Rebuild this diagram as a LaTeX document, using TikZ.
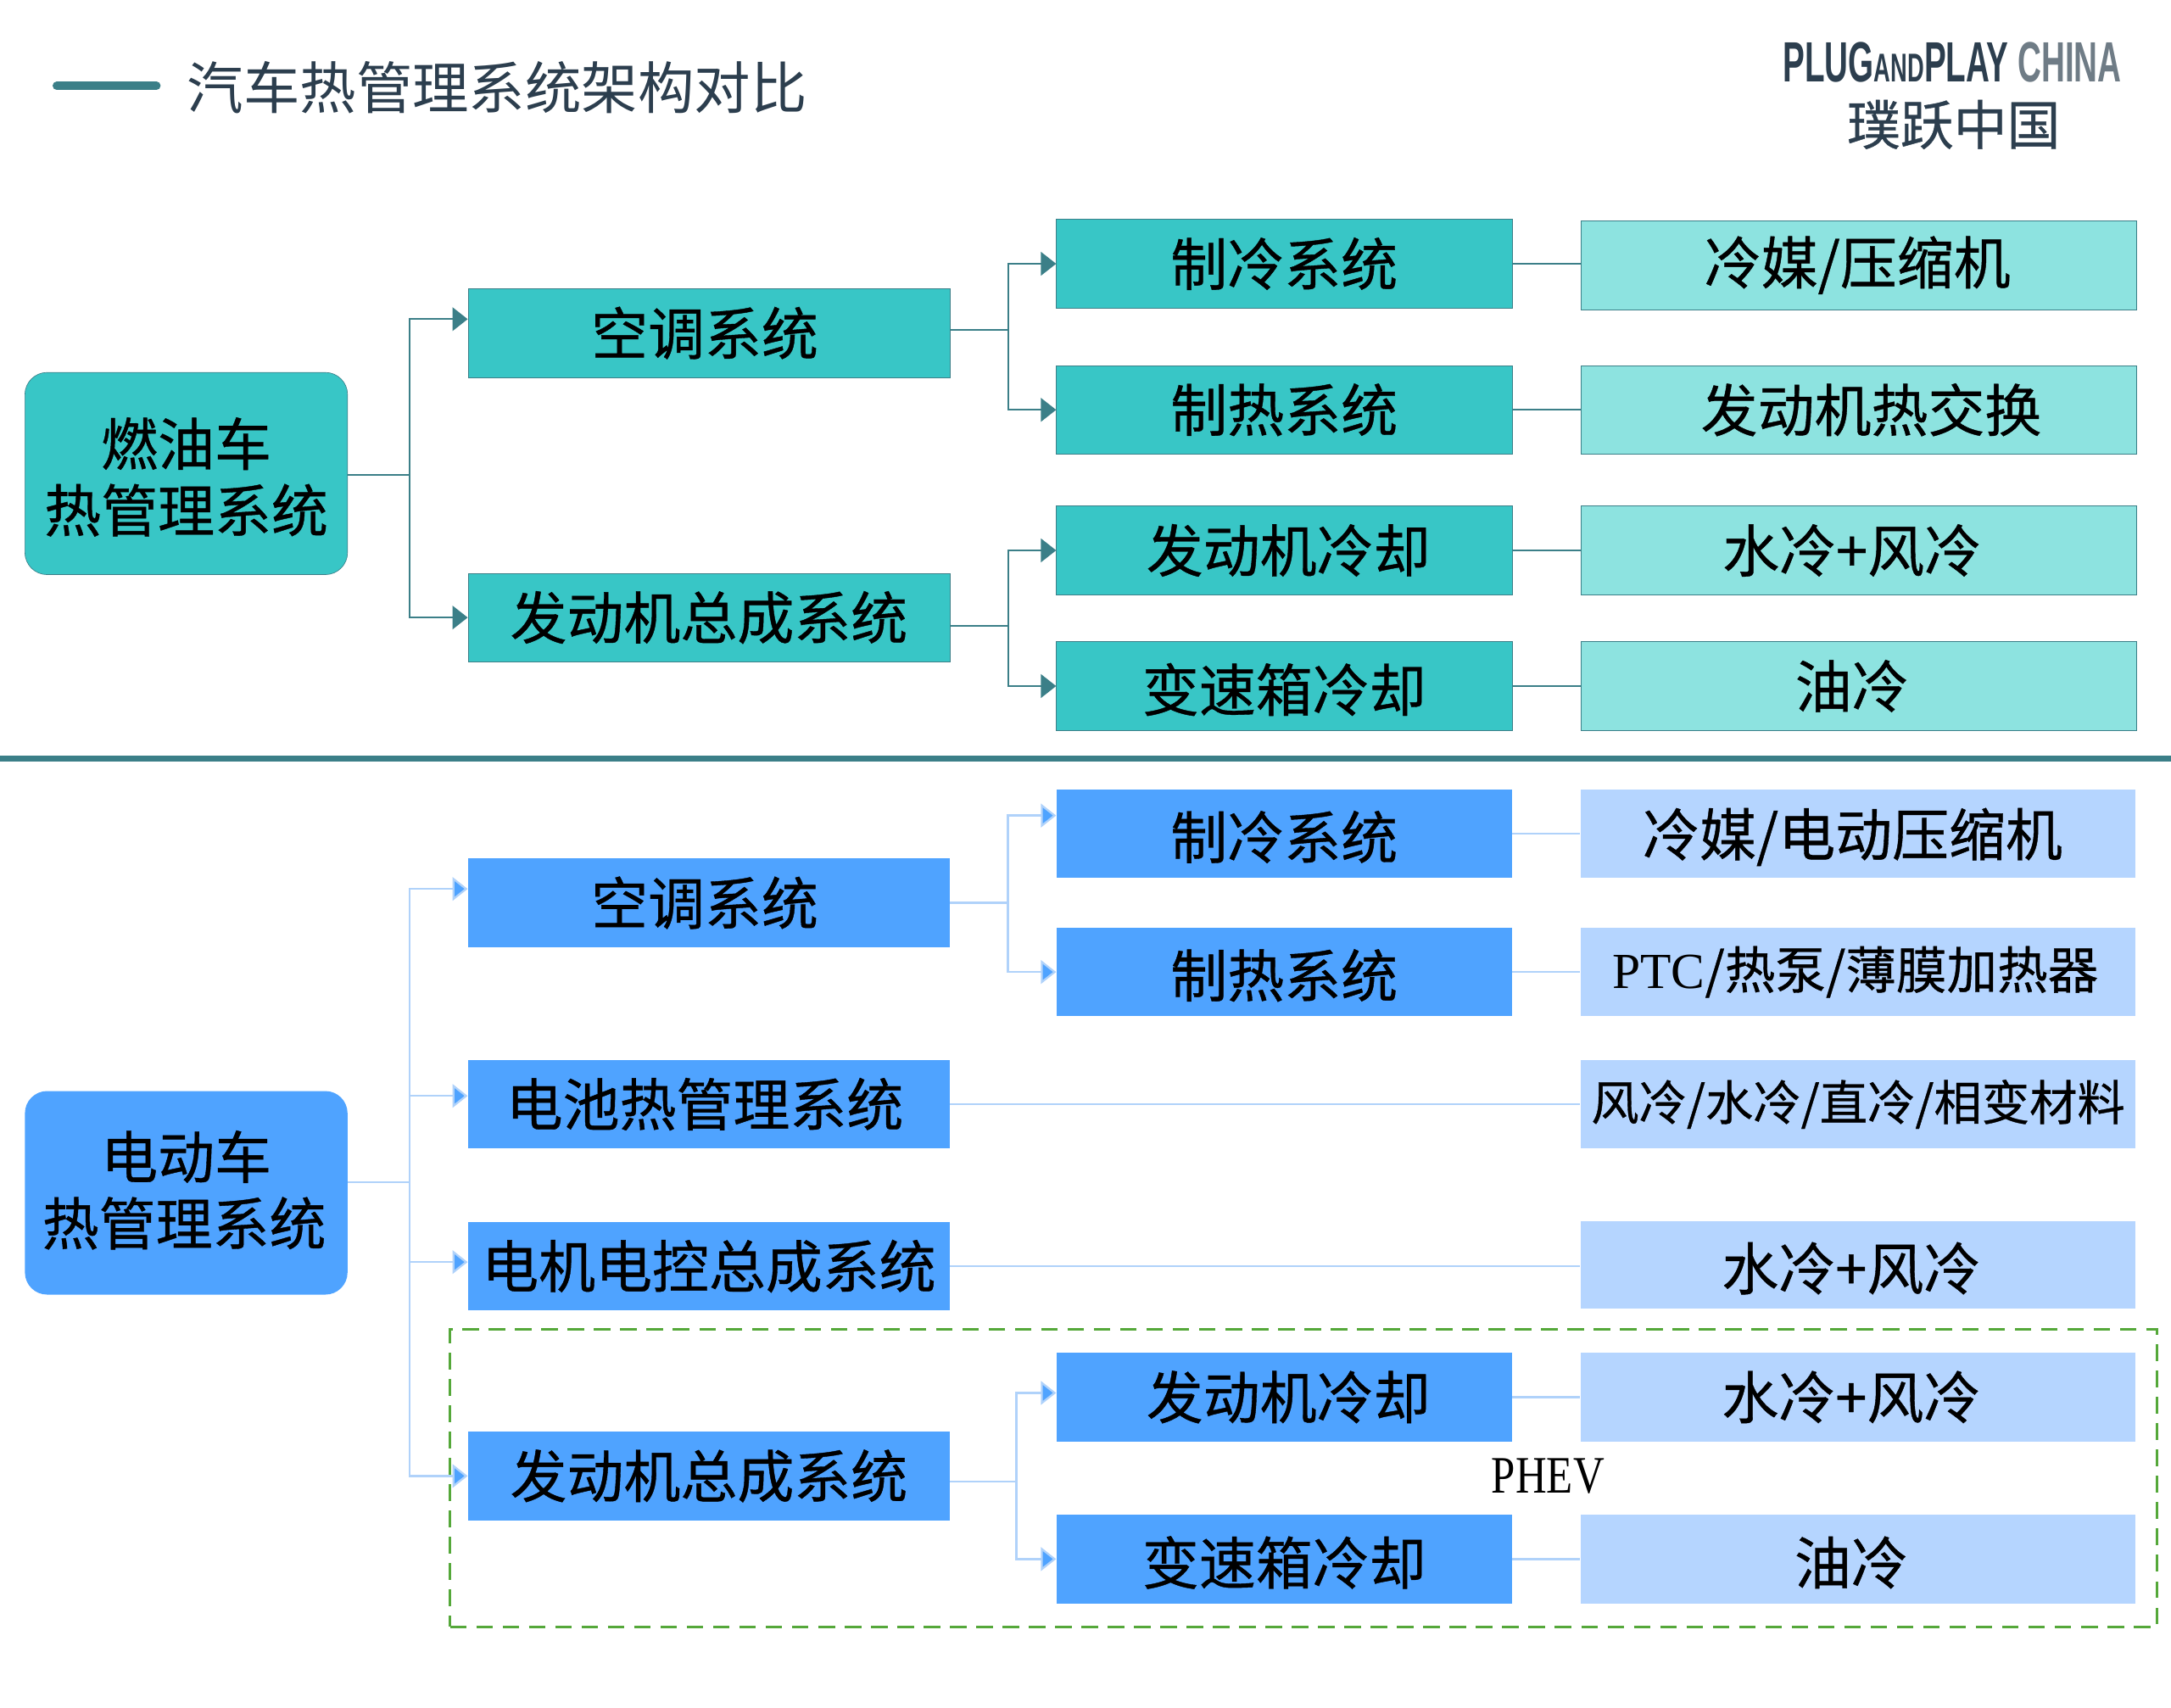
\documentclass[tikz,border=0pt]{standalone}
\usepackage{fontspec}
\usepackage{graphicx}
\usetikzlibrary{arrows.meta}
\setmainfont{Noto Sans CJK SC}
\newfontfamily\boxfont[FakeBold=0.6]{Noto Sans CJK SC}
\newfontfamily\latinserif{Liberation Serif}
\newfontfamily\logofont{Liberation Sans}
\definecolor{tealbox}{HTML}{38C6C6}
\definecolor{tealpale}{HTML}{8DE3E0}
\definecolor{tealline}{HTML}{3B7F88}
\definecolor{bluebox}{HTML}{4FA3FF}
\definecolor{bluepale}{HTML}{B5D5FF}
\definecolor{blueline}{HTML}{B0D2FA}
\definecolor{titleink}{HTML}{2C3E4E}
\definecolor{logogray}{HTML}{6F7C86}
\definecolor{phevline}{HTML}{55A83A}
\newcommand{\bigtext}{\boxfont\fontsize{41}{48}\selectfont}
\newcommand{\low}[2][-2.5pt]{\raisebox{#1}[\height][\depth]{#2}}
\tikzset{
  rootA/.style={draw=tealline, fill=tealbox, rounded corners=16pt, minimum width=233pt, minimum height=146pt, inner sep=0pt, align=center, font=\bigtext},
  rootB/.style={fill=bluebox, rounded corners=16pt, minimum width=233pt, minimum height=147pt, inner sep=0pt, align=center, font=\bigtext},
  midA/.style={draw=tealline, fill=tealbox, minimum width=348pt, minimum height=64pt, inner sep=0pt, font=\bigtext},
  midB/.style={fill=bluebox, minimum width=348pt, minimum height=64pt, inner sep=0pt, font=\bigtext},
  subA/.style={draw=tealline, fill=tealbox, minimum width=329pt, minimum height=64pt, inner sep=0pt, font=\bigtext},
  subB/.style={fill=bluebox, minimum width=329pt, minimum height=64pt, inner sep=0pt, font=\bigtext},
  leafA/.style={draw=tealline, fill=tealpale, minimum width=401pt, minimum height=64pt, inner sep=0pt, font=\bigtext},
  leafB/.style={fill=bluepale, minimum width=401pt, minimum height=64pt, inner sep=0pt, font=\bigtext},
  connA/.style={draw=tealline, line width=1.2pt},
  connB/.style={draw=blueline, line width=1.4pt},
  arrA/.style={connA, -{Triangle[length=11pt, width=17pt, fill=tealline]}},
  arrB/.style={connB, -{Triangle[length=11pt, width=17pt, fill=bluebox]}}
}
\begin{document}
\begin{tikzpicture}[x=1pt, y=-1pt]
  \useasboundingbox (0,0) rectangle (1568,1233);

  % heading and logo
  \coordinate (bar0) at (41,62);
  \coordinate (bar1) at (113,62);
  \draw[tealline, line width=6pt, line cap=round] (bar0) -- (bar1);
  \node[anchor=west, inner sep=0pt, text=titleink, font=\fontsize{40.7}{48}\selectfont] (title) at (135,63) {汽车热管理系统架构对比};
  \node[inner sep=0pt, text=titleink, font=\logofont\bfseries] (logo) at (1410,45)
    {\scalebox{0.577}[1]{\fontsize{41}{44}\selectfont PLUG\fontsize{29}{44}\selectfont AND\fontsize{41}{44}\selectfont PLAY \textcolor{logogray}{CHINA}}};
  \node[inner sep=0pt, text=titleink, font=\boxfont\fontsize{38.5}{44}\selectfont] (logocn) at (1411,90) {璞跃中国};
  \draw[tealline, line width=4pt] (0,548) -- (1568,548);

  % combustion engine tree
  \node[rootA] (r1) at (134.5,342) {\low{燃油车}\\\low{热管理系统}};
  \node[midA] (a1) at (512,240.5) {\hspace*{-6pt}空调系统};
  \node[midA] (a2) at (512,446) {发动机总成系统};
  \node[subA] (c1) at (927.5,190.5) {制冷系统};
  \node[subA] (c2) at (927.5,296) {制热系统};
  \node[subA] (c3) at (927.5,397.5) {\hspace*{6pt}发动机冷却};
  \node[subA] (c4) at (927.5,495.5) {\low{变速箱冷却}};
  \node[leafA] (d1) at (1342.5,191.5) {\hspace*{-2pt}冷媒/压缩机};
  \node[leafA] (d2) at (1342.5,296) {\hspace*{18pt}发动机热交换};
  \node[leafA] (d3) at (1342.5,397.5) {\hspace*{-10pt}水冷+风冷};
  \node[leafA] (d4) at (1342.5,495.5) {\hspace*{-10pt}油冷};

  \coordinate (j1) at (296,343);
  \coordinate (j2) at (728,238);
  \coordinate (j3) at (728,452);
  \draw[connA] (r1.east |- j1) -- (j1);
  \draw[arrA] (j1) |- ([yshift=10pt]a1.west);
  \draw[arrA] (j1) |- (a2.west);
  \draw[connA] (a1.east |- j2) -- (j2);
  \draw[arrA] (j2) |- (c1.west);
  \draw[arrA] (j2) |- (c2.west);
  \draw[connA] (a2.east |- j3) -- (j3);
  \draw[arrA] (j3) |- (c3.west);
  \draw[arrA] (j3) |- (c4.west);
  \draw[connA] (c1.east) -- (c1.east -| d1.west);
  \draw[connA] (c2.east) -- (c2.east -| d2.west);
  \draw[connA] (c3.east) -- (c3.east -| d3.west);
  \draw[connA] (c4.east) -- (c4.east -| d4.west);

  % electric vehicle tree
  \node[rootB] (r2) at (134.5,861.5) {\low[2pt]{电动车}\\\low[2pt]{\hspace*{-3pt}热管理系统}};
  \node[midB] (e1) at (512,652) {\hspace*{-6pt}空调系统};
  \node[midB] (e2) at (512,797.5) {\hspace*{-6pt}电池热管理系统};
  \node[midB] (e3) at (512,914.5) {电机电控总成系统};
  \node[midB] (e4) at (512,1066) {发动机总成系统};
  \node[subB] (f1) at (927.5,602) {\low{制冷系统}};
  \node[subB] (f2) at (927.5,702) {\low{制热系统}};
  \node[subB] (f3) at (927.5,1009) {\hspace*{6pt}发动机冷却};
  \node[subB] (f4) at (927.5,1126) {\low{变速箱冷却}};
  \node[leafB] (g1) at (1342,602) {\hspace*{-8pt}\low{冷媒/电动压缩机}};
  \node[leafB] (g2) at (1342,702) {\hspace*{-4pt}\fontsize{36.5}{44}\selectfont{\latinserif PTC}/热泵/薄膜加热器};
  \node[leafB] (g3) at (1342,797.5) {\fontsize{34.5}{40}\selectfont 风冷/水冷/直冷/相变材料};
  \node[leafB, minimum height=63pt] (g4) at (1342,913.5) {\hspace*{-10pt}\low{水冷+风冷}};
  \node[leafB] (g5) at (1342,1009) {\hspace*{-10pt}水冷+风冷};
  \node[leafB] (g6) at (1342,1126) {\hspace*{-10pt}\low{油冷}};

  \node[draw=phevline, line width=1.5pt, dash pattern=on 12pt off 7pt, minimum width=1233pt, minimum height=215pt, inner sep=0pt] (phevbox) at (941.5,1067.5) {};
  \node[inner sep=0pt, font=\latinserif\fontsize{38}{44}\selectfont\addfontfeature{FakeStretch=0.82}] (phev) at (1118,1066) {PHEV};

  \coordinate (k1) at (296,854);
  \coordinate (k2) at (728,652);
  \coordinate (k3) at (734,1070);
  \draw[connB] (r2.east |- k1) -- (k1);
  \draw[arrB] (k1) |- ([yshift=10pt]e1.west);
  \draw[arrB] (k1) |- ([yshift=6pt]e2.west);
  \draw[arrB] (k1) |- ([yshift=3pt]e3.west);
  \draw[arrB] (k1) |- (e4.west);
  \draw[connB] (e1.east |- k2) -- (k2);
  \draw[arrB] (k2) |- ([yshift=13pt]f1.west);
  \draw[arrB] (k2) |- (f2.west);
  \draw[connB] (e4.east |- k3) -- (k3);
  \draw[arrB] (k3) |- ([yshift=3pt]f3.west);
  \draw[arrB] (k3) |- (f4.west);
  \draw[connB] (f1.east) -- (f1.east -| g1.west);
  \draw[connB] (f2.east) -- (f2.east -| g2.west);
  \draw[connB] (e2.east) -- (e2.east -| g3.west);
  \draw[connB] (e3.east) -- (e3.east -| g4.west);
  \draw[connB] (f3.east) -- (f3.east -| g5.west);
  \draw[connB] (f4.east) -- (f4.east -| g6.west);
\end{tikzpicture}
\end{document}
